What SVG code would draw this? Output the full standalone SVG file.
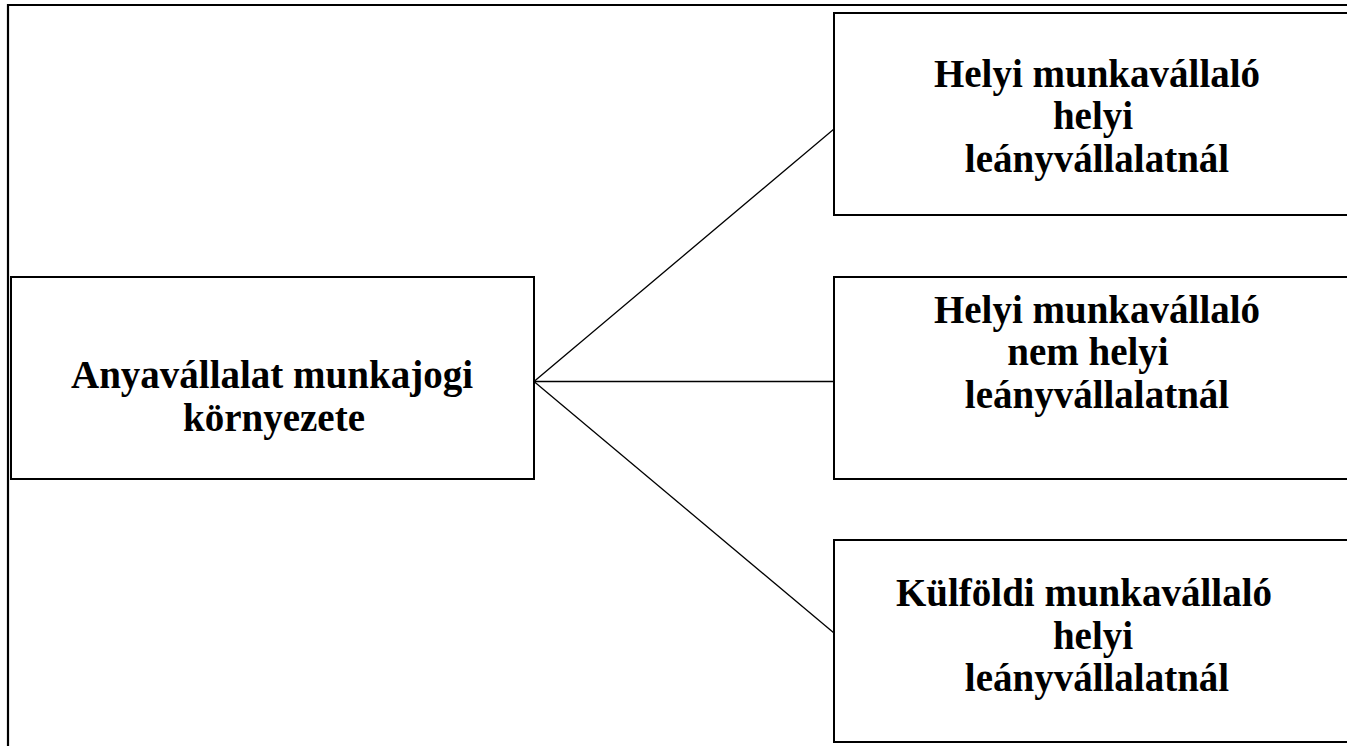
<svg xmlns="http://www.w3.org/2000/svg" width="1347" height="746" viewBox="0 0 1347 746">
  <style>
    .frame { fill: none; stroke: #000; stroke-width: 2.2; }
    .box { fill: #fff; stroke: #000; stroke-width: 2; }
    .link { fill: none; stroke: #000; stroke-width: 1.3; }
    .label { font-family: "Liberation Serif", "Times New Roman", serif; font-weight: bold; font-size: 39px; fill: #000; text-anchor: middle; }
  </style>
  <rect width="1347" height="746" fill="#fff"/>
  <!-- page frame: top and left edges -->
  <path class="frame" d="M8,746 V5 H1347"/>

  <g id="connectors">
    <line class="link" x1="534" y1="381.5" x2="834" y2="129"/>
    <line class="link" x1="534" y1="381.5" x2="834" y2="381.5"/>
    <line class="link" x1="534" y1="381.5" x2="834" y2="633"/>
  </g>

  <g id="parent">
    <rect class="box" x="11" y="277" width="523" height="202"/>
    <text class="label" x="272" y="388">Anyavállalat munkajogi</text>
    <text class="label" x="274" y="431">környezete</text>
  </g>

  <g id="local-local">
    <rect class="box" x="834" y="13" width="530" height="202"/>
    <text class="label" x="1097" y="87">Helyi munkavállaló</text>
    <text class="label" x="1093" y="129">helyi</text>
    <text class="label" x="1097" y="172">leányvállalatnál</text>
  </g>

  <g id="local-nonlocal">
    <rect class="box" x="834" y="277" width="530" height="202"/>
    <text class="label" x="1097" y="323">Helyi munkavállaló</text>
    <text class="label" x="1088" y="365">nem helyi</text>
    <text class="label" x="1097" y="408">leányvállalatnál</text>
  </g>

  <g id="foreign-local">
    <rect class="box" x="834" y="540" width="530" height="202"/>
    <text class="label" x="1084" y="606">Külföldi munkavállaló</text>
    <text class="label" x="1093" y="649">helyi</text>
    <text class="label" x="1097" y="691">leányvállalatnál</text>
  </g>
</svg>
